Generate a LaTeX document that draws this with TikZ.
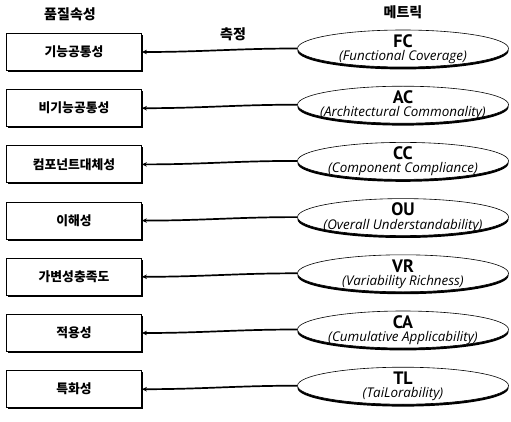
\documentclass[tikz,border=0pt]{standalone}
\usepackage{fontspec}
\setmainfont{PT Sans}
\newfontfamily\osans{Open Sans}
\newfontfamily\kr{Noto Sans CJK KR}
\usetikzlibrary{shapes.geometric,shadows,arrows.meta}
\begin{document}
\begin{tikzpicture}[x=1pt,y=-1pt,
 attr/.style={draw, line width=0.8pt, fill=white, minimum width=135pt, minimum height=37pt, inner sep=0pt,
   font=\kr\bfseries\fontsize{12.8}{14}\selectfont,
   drop shadow={shadow xshift=1.3pt, shadow yshift=-1.6pt, fill=black, opacity=1}},
 metric/.style={ellipse, draw, line width=0.6pt, fill=white, minimum width=211pt, minimum height=37pt, inner sep=0pt,
   drop shadow={shadow xshift=0pt, shadow yshift=-2.4pt, fill=black, opacity=1}},
 abbr/.style={font=\bfseries\fontsize{18}{18}\selectfont, inner sep=0pt},
 full/.style={font=\osans\itshape\fontsize{13.4}{14}\selectfont, inner sep=0pt},
 conn/.style={-{Stealth[length=5pt,width=4.5pt]}, line width=1.7pt},
 hdr/.style={font=\kr\bfseries\fontsize{14}{15}\selectfont, inner sep=0pt}
]
\useasboundingbox (0,0) rectangle (511,422);
\node[hdr] (h1) at (70,14) {품질속성};
\node[hdr] (h2) at (403,12) {메트릭};
\node[hdr] (m) at (233,34) {측정};

\foreach \i/\ko/\ab/\fu in {
 0/기능공통성/FC/Functional Coverage,
 1/비기능공통성/AC/Architectural Commonality,
 2/컴포넌트대체성/CC/Component Compliance,
 3/이해성/OU/Overall Understandability,
 4/가변성충족도/VR/Variability Richness,
 5/적용성/CA/Cumulative Applicability,
 6/특화성/TL/TaiLorability}{
  \pgfmathsetmacro{\yb}{52+56.2*\i}
  \pgfmathsetmacro{\ye}{48.5+56.2*\i}
  \node[attr] (b\i) at (74,\yb) {\ko};
  \node[metric] (e\i) at (403,\ye) {};
  \node[abbr] (a\i) at ([yshift=7.5pt]e\i.center) {\ab};
  \node[full] (f\i) at ([yshift=-8.5pt]e\i.center) {(\fu)};
  \draw[conn] (e\i.west) to[out=180,in=0] (b\i.east);
}
\end{tikzpicture}
\end{document}
